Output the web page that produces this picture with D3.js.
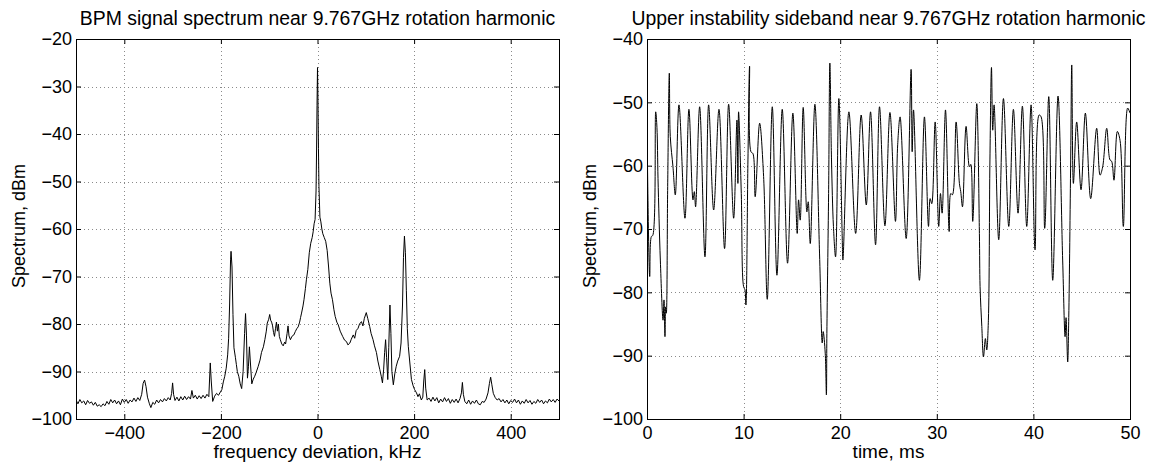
<!DOCTYPE html>
<html>
<head>
<meta charset="utf-8">
<script src="https://cdnjs.cloudflare.com/ajax/libs/d3/7.8.5/d3.min.js"></script>
<style>
  body { margin: 0; background: #fff; }
  svg text { font-family: "Liberation Sans", Arial, Helvetica, sans-serif; font-size: 18px; fill: #000; }
  svg text.title { font-size: 19.4px; }
  svg text.xlabel { font-size: 19px; }
</style>
</head>
<body>
<div id="chart"></div>
<script>
// left panel: spectrum around the harmonic, [kHz, dBm]
const spectrum = [
  [-500,-96.0],[-496,-96.8],[-492,-95.9],[-488,-96.6],[-484,-96.2],[-480,-97.0],[-476,-96.1],[-472,-96.7],
  [-468,-96.4],[-464,-97.1],[-460,-96.5],[-456,-97.3],[-452,-97.0],[-448,-97.4],[-444,-96.8],[-440,-97.2],
  [-436,-96.3],[-432,-96.9],[-428,-95.9],[-424,-96.6],[-420,-96.0],[-416,-96.8],[-412,-96.2],[-408,-97.0],
  [-404,-95.8],[-400,-96.5],[-396,-95.9],[-392,-96.7],[-388,-96.0],[-384,-96.4],[-380,-95.6],[-376,-96.3],
  [-372,-95.5],[-368,-96.1],[-364,-94.8],[-361,-92.5],[-358,-91.8],[-355,-93.2],[-352,-95.4],[-348,-96.8],
  [-345,-97.6],[-341,-96.5],[-337,-96.9],[-333,-96.0],[-329,-96.6],[-325,-95.9],[-321,-96.4],[-317,-95.7],
  [-313,-96.2],[-309,-95.5],[-305,-96.0],[-302,-94.6],[-300,-92.4],[-298,-94.8],[-295,-96.1],[-291,-95.4],
  [-287,-96.2],[-283,-95.3],[-279,-96.0],[-275,-95.2],[-271,-95.9],[-267,-95.3],[-263,-95.8],[-260,-94.0],
  [-257,-95.6],[-253,-95.0],[-249,-95.8],[-245,-95.1],[-241,-95.7],[-237,-95.0],[-233,-95.6],[-229,-94.8],
  [-225,-95.3],[-222,-88.2],[-220,-92.0],[-217,-96.3],[-213,-95.2],[-209,-94.6],[-205,-95.0],[-201,-94.3],
  [-198,-93.8],[-195,-92.2],[-192,-91.0],[-189,-89.3],[-186,-86.5],[-184,-83.0],[-182,-76.0],[-180,-66.5],
  [-179,-64.7],[-177,-68.0],[-175,-78.0],[-173,-85.0],[-170,-87.0],[-168,-88.5],[-166,-90.0],[-163,-91.0],
  [-160,-92.6],[-157,-93.6],[-154,-90.0],[-151,-82.0],[-149,-77.8],[-147,-82.5],[-145,-91.4],[-143,-89.0],
  [-141,-84.8],[-139,-88.0],[-136,-92.6],[-133,-91.6],[-130,-91.0],[-127,-90.2],[-123,-89.0],[-119,-87.6],
  [-116,-86.0],[-112,-84.8],[-109,-83.3],[-106,-81.5],[-104,-79.8],[-101,-79.0],[-99,-78.0],[-97,-79.2],
  [-95,-79.6],[-93,-80.4],[-91,-81.8],[-89,-82.6],[-87,-81.0],[-85,-79.6],[-83,-81.5],[-81,-80.0],
  [-79,-82.6],[-77,-83.3],[-74,-84.2],[-71,-84.6],[-68,-83.8],[-66,-84.2],[-63,-82.0],[-61,-80.4],
  [-59,-82.5],[-56,-83.3],[-53,-82.6],[-49,-82.3],[-46,-81.6],[-43,-81.0],[-40,-80.6],[-37,-79.6],
  [-35,-78.6],[-33,-77.7],[-30,-76.2],[-28,-74.9],[-25,-72.5],[-23,-70.7],[-20,-68.5],[-17,-65.0],
  [-14,-63.0],[-11,-61.8],[-9,-60.6],[-7,-58.9],[-5,-58.0],[-3,-52.0],[-2,-44.0],[-1,-34.0],
  [0,-26.0],[1,-33.0],[2,-43.0],[3,-51.0],[5,-57.5],[7,-58.5],[9,-60.0],[11,-61.0],
  [14,-61.8],[17,-62.6],[20,-64.5],[23,-68.0],[25.5,-71.4],[28,-73.5],[31,-74.9],[34,-77.0],
  [36.6,-78.4],[40,-79.6],[43,-80.2],[47,-81.5],[52,-82.6],[56,-83.4],[60,-83.7],[63,-84.4],
  [67,-84.0],[70,-83.2],[74,-82.3],[77,-83.0],[80,-81.4],[84,-80.9],[87,-80.0],[91,-79.5],
  [94,-80.4],[97,-78.8],[101,-77.6],[104,-78.8],[108,-80.5],[111,-82.0],[115,-83.3],[118,-84.6],
  [122,-86.0],[125,-87.8],[129,-89.6],[132,-91.0],[134.5,-92.4],[137,-89.5],[139,-86.0],[141,-83.3],
  [143,-87.0],[145.5,-91.7],[147.5,-85.0],[150,-76.0],[152,-82.0],[154,-90.0],[157,-92.8],[160,-90.5],
  [163,-88.9],[166,-87.8],[170,-86.8],[173,-84.0],[176,-76.0],[178,-66.0],[180,-61.5],[182,-65.0],
  [184,-73.0],[186,-81.0],[188,-84.7],[191,-88.0],[194.5,-91.7],[198,-93.0],[201,-93.8],[205,-94.5],
  [208,-95.3],[211,-94.7],[215,-96.0],[218,-95.4],[220,-92.0],[222,-89.6],[224,-93.5],[227,-96.0],
  [231,-95.6],[235,-96.3],[239,-95.4],[243,-96.2],[247,-95.5],[251,-96.6],[255,-95.8],[259,-96.4],
  [263,-95.5],[267,-96.3],[271,-95.7],[275,-96.7],[279,-95.9],[283,-96.5],[287,-95.8],[291,-96.6],
  [295,-95.7],[298,-94.5],[300,-92.3],[302,-94.8],[305,-96.3],[309,-96.8],[313,-96.0],[317,-96.9],
  [321,-96.2],[325,-96.7],[329,-96.0],[333,-96.8],[337,-97.0],[341,-96.3],[345,-96.5],[349,-95.8],
  [353,-94.5],[356,-92.5],[358.5,-91.2],[361,-92.8],[364,-94.6],[368,-95.5],[372,-96.0],[376,-95.7],
  [380,-96.4],[384,-95.9],[388,-96.6],[392,-96.0],[396,-96.8],[400,-96.1],[404,-96.5],[408,-95.8],
  [412,-96.6],[416,-96.0],[420,-96.9],[424,-96.2],[428,-96.7],[432,-95.9],[436,-96.6],[440,-96.1],
  [444,-96.9],[448,-96.3],[452,-96.7],[456,-95.9],[460,-96.5],[464,-96.0],[468,-96.8],[472,-96.2],
  [476,-96.6],[480,-95.8],[484,-96.4],[488,-95.9],[492,-96.5],[496,-95.8],[500,-96.2]
]

// right panel: upper sideband level vs time, [ms, dBm]
const sideband = [
  [0.0,-53.5],[0.28,-77.5],[0.45,-71.2],[0.6,-71.0],[0.9,-51.5],[1.03,-54.0],[1.14,-62.0],[1.38,-74.9],
  [1.66,-84.4],[1.76,-81.2],[1.86,-87.0],[1.93,-82.3],[2.0,-83.3],[2.14,-63.3],[2.31,-45.4],[2.41,-55.4],
  [2.69,-60.2],[2.93,-64.6],[3.31,-50.4],[3.93,-68.3],[4.34,-51.1],[4.76,-65.4],[4.9,-64.1],[5.03,-66.5],
  [5.45,-50.7],[6.0,-74.4],[6.38,-50.4],[6.9,-67.0],[7.45,-51.1],[8.03,-73.1],[8.45,-50.3],[8.97,-68.3],
  [9.31,-52.8],[9.41,-62.8],[9.48,-51.5],[9.76,-64.4],[10.0,-79.1],[10.14,-79.6],[10.24,-82.0],[10.45,-59.1],
  [10.62,-44.3],[10.76,-57.8],[10.97,-58.1],[11.2,-64.9],[11.66,-53.3],[12.07,-61.7],[12.45,-81.1],[12.97,-50.7],
  [13.45,-77.3],[14.0,-51.1],[14.55,-75.4],[15.1,-51.7],[15.55,-70.7],[15.69,-65.4],[15.86,-68.6],[16.17,-50.8],
  [16.55,-67.3],[16.69,-65.7],[16.9,-72.3],[17.38,-50.3],[17.86,-73.8],[18.14,-88.0],[18.24,-86.2],[18.45,-89.6],
  [18.57,-96.2],[18.62,-86.5],[18.8,-64.4],[18.93,-43.8],[19.1,-59.1],[19.3,-69.6],[19.52,-74.4],[19.86,-49.4],
  [20.2,-70.7],[20.28,-74.9],[20.9,-51.5],[21.6,-70.7],[22.17,-52.0],[22.7,-66.2],[23.14,-51.5],[23.66,-72.5],
  [24.07,-50.7],[24.63,-69.5],[25.15,-51.6],[25.72,-68.8],[25.95,-56.7],[26.2,-52.3],[26.83,-71.5],[27.34,-44.8],
  [27.45,-57.8],[27.59,-51.2],[28.2,-78.1],[28.72,-52.3],[29.14,-69.6],[29.31,-65.2],[29.48,-66.0],[29.83,-53.1],
  [30.2,-69.6],[30.38,-64.4],[30.55,-67.5],[30.9,-51.2],[31.28,-70.4],[31.45,-64.4],[31.62,-64.6],[32.0,-53.1],
  [32.34,-62.8],[32.48,-64.1],[32.66,-66.5],[33.03,-53.8],[33.38,-60.2],[33.52,-59.8],[33.72,-68.8],[34.14,-50.2],
  [34.41,-70.7],[34.48,-79.1],[34.66,-85.4],[34.83,-90.2],[35.03,-87.3],[35.17,-89.1],[35.34,-84.4],[35.5,-59.1],
  [35.66,-44.5],[35.79,-54.4],[35.93,-50.4],[36.41,-71.7],[36.9,-49.4],[37.45,-69.6],[37.93,-51.1],[38.41,-67.5],
  [38.86,-50.6],[39.31,-69.6],[39.76,-50.4],[40.17,-73.3],[40.59,-52.0],[40.8,-52.3],[41.17,-69.9],[41.59,-49.1],
  [42.0,-78.1],[42.55,-49.0],[43.03,-74.9],[43.28,-87.0],[43.38,-84.0],[43.55,-91.0],[43.66,-84.0],[43.86,-59.1],
  [43.97,-44.1],[44.14,-62.8],[44.48,-53.1],[44.93,-63.8],[45.38,-51.7],[45.93,-65.2],[46.55,-54.1],[46.9,-61.5],
  [47.17,-60.2],[47.59,-54.1],[47.93,-59.1],[48.1,-59.3],[48.34,-62.3],[48.69,-54.6],[48.97,-56.0],[49.31,-69.6],
  [49.76,-50.9],[50.0,-51.7]
]

const freqTicks = [-400, -200, 0, 200, 400]
const spectrumTicks = [-100, -90, -80, -70, -60, -50, -40, -30, -20]
const timeTicks = [0, 10, 20, 30, 40, 50]
const sidebandTicks = [-100, -90, -80, -70, -60, -50, -40]

const width = 1155, height = 463
const plotTop = 39, plotBottom = 419, plotW = 483

const panels = [
    {id: "spec", left: 76, data: spectrum, xDomain: [-500, 500], yDomain: [-100, -20],
     xTicks: freqTicks, yTicks: spectrumTicks, curve: d3.curveLinear,
     title: "BPM signal spectrum near 9.767GHz rotation harmonic",
     xlabel: "frequency deviation, kHz", ylabel: "Spectrum, dBm"},
    {id: "side", left: 647, data: sideband, xDomain: [0, 50], yDomain: [-100, -40],
     xTicks: timeTicks, yTicks: sidebandTicks, curve: d3.curveCatmullRom.alpha(0.5),
     title: "Upper instability sideband near 9.767GHz rotation harmonic",
     xlabel: "time, ms", ylabel: "Spectrum, dBm"}
]

const svg = d3.select("#chart").append("svg")
    .attr("width", width)
    .attr("height", height)

panels.forEach(function(p) {
    const x = d3.scaleLinear().domain(p.xDomain).range([p.left, p.left + plotW])
    const y = d3.scaleLinear().domain(p.yDomain).range([plotBottom, plotTop])
    const h = plotBottom - plotTop

    svg.append("clipPath")
        .attr("id", "clip-" + p.id)
      .append("rect")
        .attr("x", p.left).attr("y", plotTop)
        .attr("width", plotW).attr("height", h)

    // dotted grid, only inside the box
    const grid = svg.append("g")
        .attr("stroke", "#8a8a8a")
        .attr("stroke-width", 1)
        .attr("stroke-dasharray", "1,3")
    grid.selectAll(".vg")
        .data(p.xTicks.filter(d => d > p.xDomain[0] && d < p.xDomain[1]))
        .enter().append("line")
        .attr("x1", d => Math.round(x(d)) + 0.5).attr("x2", d => Math.round(x(d)) + 0.5)
        .attr("y1", plotTop).attr("y2", plotBottom)
    grid.selectAll(".hg")
        .data(p.yTicks.filter(d => d > p.yDomain[0] && d < p.yDomain[1]))
        .enter().append("line")
        .attr("y1", d => Math.round(y(d)) + 0.5).attr("y2", d => Math.round(y(d)) + 0.5)
        .attr("x1", p.left).attr("x2", p.left + plotW)

    const line = d3.line()
        .x(d => x(d[0]))
        .y(d => y(d[1]))
        .curve(p.curve)

    svg.append("path")
        .datum(p.data)
        .attr("clip-path", "url(#clip-" + p.id + ")")
        .attr("fill", "none")
        .attr("stroke", "#000")
        .attr("stroke-width", 1)
        .attr("stroke-linejoin", "round")
        .attr("d", line)

    // ticks inside the box on all four sides
    const fmt = d3.format("")
    svg.append("g")
        .attr("transform", "translate(0," + plotBottom + ")")
        .call(d3.axisBottom(x).tickValues(p.xTicks).tickSize(-5).tickPadding(7).tickFormat(fmt))
        .call(g => g.select(".domain").remove())
    svg.append("g")
        .attr("transform", "translate(0," + plotTop + ")")
        .call(d3.axisTop(x).tickValues(p.xTicks).tickSize(-5).tickFormat(""))
        .call(g => g.select(".domain").remove())
    svg.append("g")
        .attr("transform", "translate(" + p.left + ",0)")
        .call(d3.axisLeft(y).tickValues(p.yTicks).tickSize(-5).tickPadding(4).tickFormat(fmt))
        .call(g => g.select(".domain").remove())
    svg.append("g")
        .attr("transform", "translate(" + (p.left + plotW) + ",0)")
        .call(d3.axisRight(y).tickValues(p.yTicks).tickSize(-5).tickFormat(""))
        .call(g => g.select(".domain").remove())

    svg.selectAll(".tick line").attr("stroke", "#000")
    svg.selectAll(".tick text")
        .attr("font-family", null)
        .attr("font-size", null)
        .attr("fill", "#000")

    svg.append("rect")
        .attr("x", p.left + 0.5).attr("y", plotTop + 0.5)
        .attr("width", plotW).attr("height", h)
        .attr("fill", "none")
        .attr("stroke", "#000")
        .attr("stroke-width", 1)

    svg.append("text")
        .attr("class", "title")
        .attr("x", p.left + plotW / 2)
        .attr("y", 25)
        .attr("text-anchor", "middle")
        .text(p.title)

    svg.append("text")
        .attr("class", "xlabel")
        .attr("x", p.left + plotW / 2)
        .attr("y", 458)
        .attr("text-anchor", "middle")
        .text(p.xlabel)

    svg.append("text")
        .attr("transform", "translate(" + (p.left - 51) + "," + (plotTop + h / 2 - 3) + ") rotate(-90)")
        .attr("text-anchor", "middle")
        .text(p.ylabel)
})
</script>
</body>
</html>
